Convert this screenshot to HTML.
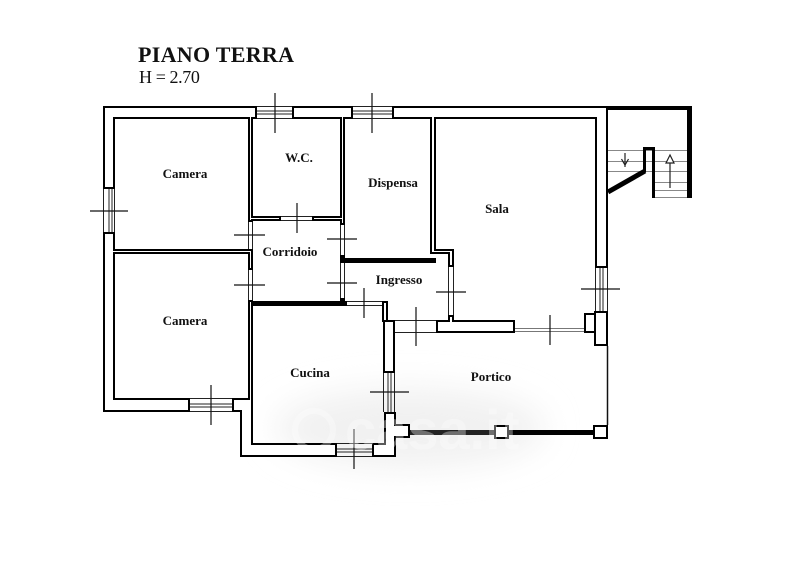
<!DOCTYPE html>
<html><head><meta charset="utf-8"><style>
html,body{margin:0;padding:0;background:#fff;}
svg{display:block;}
.t{font-family:"Liberation Serif",serif;}
.lb{font-family:"Liberation Serif",serif;font-weight:bold;font-size:13px;text-anchor:middle;fill:#111;}
</style></head><body>
<svg width="800" height="566" viewBox="0 0 800 566" xmlns="http://www.w3.org/2000/svg">
<defs>
<filter id="bl" x="-50%" y="-50%" width="200%" height="200%"><feGaussianBlur stdDeviation="16"/></filter>
</defs>
<rect width="800" height="566" fill="#fff"/>
<ellipse cx="410" cy="428" rx="135" ry="40" fill="#f1f1f1" filter="url(#bl)"/>

<!-- title -->
<text class="t" x="138" y="62" font-size="22" font-weight="bold" fill="#111" letter-spacing="0.3">PIANO TERRA</text>
<text class="t" x="139" y="83" font-size="18" fill="#111" letter-spacing="-0.4">H = 2.70</text>

<!-- walls: black -->
<g fill="#000">
<rect x="103" y="106" width="154" height="13"/>
<rect x="292" y="106" width="61" height="13"/>
<rect x="392" y="106" width="216" height="13"/>
<rect x="103" y="106" width="12" height="83"/>
<rect x="103" y="232" width="12" height="180"/>
<rect x="103" y="398" width="87" height="14"/>
<rect x="232" y="398" width="21" height="14"/>
<rect x="240" y="398" width="13" height="59"/>
<rect x="240" y="443" width="97" height="14"/>
<rect x="372" y="443" width="24" height="14"/>
<rect x="384" y="412" width="12" height="45"/>
<rect x="392" y="424" width="18" height="14"/>
<rect x="383" y="320" width="12" height="53"/>
<rect x="382" y="301" width="6" height="21"/>
<rect x="436" y="320" width="79" height="13"/>
<rect x="448" y="315" width="6" height="7"/>
<rect x="594" y="311" width="14" height="35"/>
<rect x="584" y="313" width="12" height="20"/>
<rect x="595" y="106" width="13" height="162"/>
<!-- interior -->
<rect x="248" y="112" width="5" height="110"/>
<rect x="108" y="249" width="145" height="5"/>
<rect x="248" y="249" width="5" height="21"/>
<rect x="248" y="300" width="5" height="105"/>
<rect x="248" y="216" width="33" height="5"/>
<rect x="312" y="216" width="33" height="5"/>
<rect x="340" y="112" width="5" height="113"/>
<rect x="340" y="255" width="5" height="8"/>
<rect x="340" y="258" width="96" height="5"/>
<rect x="340" y="298" width="5" height="8"/>
<rect x="248" y="301" width="99" height="5"/>
<rect x="430" y="112" width="6" height="142"/>
<rect x="430" y="249" width="24" height="5"/>
<rect x="448" y="249" width="6" height="18"/>
</g>
<!-- walls: white insets -->
<g fill="#fff">
<rect x="105" y="108" width="150" height="9"/>
<rect x="294" y="108" width="57" height="9"/>
<rect x="394" y="108" width="212" height="9"/>
<rect x="105" y="108" width="8" height="79"/>
<rect x="105" y="234" width="8" height="176"/>
<rect x="105" y="400" width="83" height="10"/>
<rect x="234" y="400" width="17" height="10"/>
<rect x="242" y="400" width="9" height="55"/>
<rect x="242" y="445" width="93" height="10"/>
<rect x="374" y="445" width="20" height="10"/>
<rect x="386" y="414" width="8" height="41"/>
<rect x="394" y="426" width="14" height="10"/>
<rect x="385" y="322" width="8" height="49"/>
<rect x="384" y="303" width="2" height="17"/>
<rect x="438" y="322" width="75" height="9"/>
<rect x="450" y="317" width="2" height="5"/>
<rect x="596" y="313" width="10" height="31"/>
<rect x="586" y="315" width="8" height="16"/>
<rect x="597" y="108" width="9" height="158"/>
<rect x="250" y="114" width="1" height="106"/>
<rect x="110" y="251" width="141" height="1"/>
<rect x="250" y="251" width="1" height="17"/>
<rect x="250" y="302" width="1" height="101"/>
<rect x="250" y="218" width="29" height="1"/>
<rect x="314" y="218" width="29" height="1"/>
<rect x="342" y="114" width="1" height="109"/>
<rect x="432" y="114" width="2" height="138"/>
<rect x="432" y="251" width="20" height="1"/>
<rect x="450" y="251" width="2" height="14"/>
</g>

<!-- windows -->
<g stroke="#222" stroke-width="1" fill="none">
<path d="M257 106.5H292M257 111H292M257 114H292M257 118.5H292"/>
<path d="M353 106.5H392M353 111H392M353 114H392M353 118.5H392"/>
<path d="M103.5 189V232M109 189V232M112 189V232M114.5 189V232"/>
<path d="M190 398.5H232M190 404H232M190 407H232M190 411.5H232"/>
<path d="M337 443.5H372M337 449H372M337 452H372M337 456.5H372"/>
<path d="M383.5 373V412M388 373V412M391 373V412M394.5 373V412"/>
<path d="M595.5 268V311M600 268V311M603 268V311M607.5 268V311"/>
</g>
<g stroke="#777" stroke-width="1">
<path d="M515 328.5H584M515 331.5H584"/>
</g>
<!-- door thin lines -->
<g stroke="#222" stroke-width="1" fill="none">
<path d="M281 216.5H312M281 220.5H312"/>
<path d="M248.5 222V249M252.5 222V249"/>
<path d="M248.5 270V300M252.5 270V300"/>
<path d="M340.5 225V255M344.5 225V255"/>
<path d="M340.5 263V298M344.5 263V298"/>
<path d="M347 301.5H382M347 305.5H382"/>
<path d="M448.5 267V315M453.5 267V315"/>
<path d="M395 320.5H436M395 332.5H436"/>
</g>
<!-- crosses -->
<g stroke="#111" stroke-width="1.2" fill="none">
<path d="M275 93V133"/>
<path d="M372 93V133"/>
<path d="M90 211H128"/>
<path d="M211 385V425"/>
<path d="M354 429V469"/>
<path d="M370 392H409"/>
<path d="M581 289H620"/>
<path d="M550 315V345"/>
<path d="M297 203V233"/>
<path d="M234 235H265"/>
<path d="M234 285H265"/>
<path d="M327 239H357"/>
<path d="M327 283H357"/>
<path d="M364 288V318"/>
<path d="M436 292H466"/>
<path d="M416 307V346"/>
</g>

<!-- portico -->
<path d="M607.5 346V425" stroke="#111" stroke-width="1.5"/>
<rect x="410" y="430" width="84" height="5" fill="#222"/>
<rect x="509" y="430" width="84" height="5" fill="#000"/>
<rect x="494" y="425" width="15" height="14" fill="#000"/>
<rect x="496" y="427" width="11" height="10" fill="#fff"/>
<rect x="593" y="425" width="15" height="14" fill="#000"/>
<rect x="595" y="427" width="11" height="10" fill="#fff"/>

<!-- stairs -->
<rect x="607" y="106" width="85" height="4" fill="#000"/>
<rect x="687" y="106" width="5" height="92" fill="#000"/>
<g stroke="#888" stroke-width="1">
<path d="M608 150.5H687M608 161.5H687M608 171.5H687"/>
<path d="M655 182.5H687M655 190.5H687M655 197.5H687"/>
</g>
<path d="M644.5 172V148.5H653.5V198" stroke="#000" stroke-width="3" fill="none"/>
<path d="M645 171L608 192" stroke="#000" stroke-width="5"/>
<path d="M625 153V167" stroke="#222" stroke-width="1.2"/>
<path d="M621.5 159L625 165L628.5 159" stroke="#222" stroke-width="1.2" fill="none"/>
<path d="M670 188V161" stroke="#222" stroke-width="1.2"/>
<path d="M670 155L666 163H674Z" stroke="#222" stroke-width="1.2" fill="#fff"/>

<!-- labels -->
<text class="lb" x="185" y="178">Camera</text>
<text class="lb" x="299" y="162">W.C.</text>
<text class="lb" x="393" y="187">Dispensa</text>
<text class="lb" x="497" y="213">Sala</text>
<text class="lb" x="290" y="256">Corridoio</text>
<text class="lb" x="399" y="284">Ingresso</text>
<text class="lb" x="185" y="325">Camera</text>
<text class="lb" x="310" y="377">Cucina</text>
<text class="lb" x="491" y="381">Portico</text>

<!-- watermark -->
<g opacity="0.35" fill="#fff">
<circle cx="314" cy="430" r="19" fill="none" stroke="#fff" stroke-width="6"/>
<text x="345" y="449" font-family="Liberation Sans, sans-serif" font-weight="bold" font-size="56">casa.it</text>
</g>
</svg>
</body></html>
